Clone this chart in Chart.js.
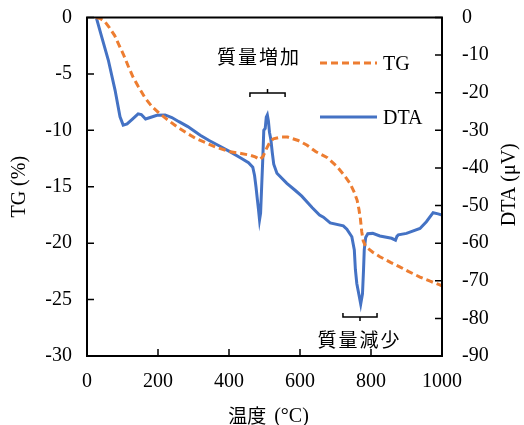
<!DOCTYPE html>
<html>
<head>
<meta charset="utf-8">
<script src="https://cdn.jsdelivr.net/npm/chart.js@4.4.0/dist/chart.umd.min.js"></script>
<style>
  html, body { margin: 0; padding: 0; background: #fff; }
  #wrap { width: 524px; height: 425px; position: relative; }
</style>
</head>
<body>
<div id="wrap"><canvas id="c" width="524" height="425"></canvas></div>
<script>
// Thermogravimetric (TG) curve: temperature (°C) and mass change (%)
const tgTemps = [25, 38, 51, 63, 78, 88, 103, 116, 130, 144, 163, 183, 204, 220, 254, 279, 305, 334, 364, 404,
  434, 459, 474, 487, 496, 506, 516, 525, 545, 565, 595, 619, 645, 676, 704, 725, 741, 753, 761, 766,
  770, 774, 778, 785, 805, 825, 855, 881, 905, 938, 965, 994, 1000];
const tgValues = [0, -0.1, -0.4, -0.9, -1.6, -2.3, -3.3, -4.3, -5.3, -6.1, -7.1, -7.9, -8.5, -8.9, -9.7, -10.2, -10.7, -11.1, -11.5, -11.9,
  -12.05, -12.2, -12.35, -12.6, -12.3, -11.6, -11.0, -10.75, -10.6, -10.6, -10.9, -11.3, -11.9, -12.4, -13.2, -14.0, -14.7, -15.5, -16.2, -17.0,
  -17.8, -19.0, -19.8, -20.3, -20.8, -21.2, -21.7, -22.1, -22.5, -23.0, -23.35, -23.7, -23.8];

// Differential thermal analysis (DTA) curve: temperature (°C) and signal (µV)
const dtaTemps = [27, 41, 60, 79, 93, 102, 113, 128, 144, 153, 165, 178, 197, 220, 239, 259, 284, 305, 319, 344,
  376, 405, 432, 455, 467, 472, 476, 480, 483, 486, 489, 492, 495, 498, 502, 505, 508, 511, 514, 518,
  522, 526, 535, 563, 587, 605, 634, 655, 666, 685, 722, 732, 746, 753, 756, 760, 767, 771, 776, 779,
  781, 785, 791, 805, 825, 858, 869, 873, 877, 900, 938, 956, 975, 989, 1000];
const dtaValues = [-0.3, -5, -11.3, -19.3, -26.4, -28.6, -28.3, -27, -25.6, -25.8, -27, -26.6, -26, -25.9, -26.6, -27.7, -29, -30.4, -31.3, -32.7,
  -34.3, -35.8, -37.3, -38.6, -39.8, -42, -45, -48.5, -51, -53.8, -52, -45, -38, -30, -29.5, -26.5, -25.9, -27.5, -30.5, -32.5,
  -36, -39, -41.4, -44.1, -46, -47.5, -50.5, -52.5, -53.1, -54.6, -55.4, -56.3, -58.3, -61.8, -67, -70.7, -74.2, -76.2, -73.5, -67,
  -61.8, -58.5, -57.5, -57.4, -58.1, -58.7, -59.2, -58.2, -57.8, -57.4, -56.1, -54.3, -51.9, -52.2, -52.5];

// Axis ticks
const xTicks = [0, 200, 400, 600, 800, 1000];
const tgTicks = [0, -5, -10, -15, -20, -25, -30];
const dtaTicks = [0, -10, -20, -30, -40, -50, -60, -70, -80, -90];

// Names and titles
const seriesNames = ['TG', 'DTA'];
const xTitleJa = '温度';
const xTitleUnit = '(°C)';
const tgTitle = 'TG (%)';
const dtaTitle = 'DTA (μV)';

// Bracketed notes in data units (temperature, TG %)
const noteTexts = ['質量増加', '質量減少'];
const noteTextT = [482, 765];
const noteTextTG = [-3.5, -28.6];
const noteFromT = [459, 721];
const noteToT = [558, 817];
const noteAtTG = [-6.7, -26.55];

const ORANGE = '#ED7D31';
const BLUE = '#4472C4';
const SERIF = "'Liberation Serif', 'Times New Roman', serif";
const CJK = "'Noto Sans CJK JP', 'Noto Sans', sans-serif";

const tgData = tgTemps.map((t, i) => ({ x: t, y: tgValues[i] }));
const dtaData = dtaTemps.map((t, i) => ({ x: t, y: dtaValues[i] }));

// fixed axis box sizes; label overhang is not allowed to shrink the plot
function fixBox(size, horizontal) {
  return s => {
    if (horizontal) s.height = size; else s.width = size;
    s.paddingTop = 0; s.paddingBottom = 0; s.paddingLeft = 0; s.paddingRight = 0;
  };
}

const decor = {
  id: 'decor',
  afterDraw(chart) {
    const ctx = chart.ctx;
    const a = chart.chartArea;
    const sx = chart.scales.x, sl = chart.scales.yTG, sr = chart.scales.yDTA;
    ctx.save();
    // plot frame
    ctx.strokeStyle = '#000';
    ctx.lineWidth = 2;
    ctx.strokeRect(a.left, a.top, a.right - a.left, a.bottom - a.top);
    // inward tick marks
    ctx.lineWidth = 1.5;
    ctx.beginPath();
    const tl = 7;
    tgTicks.forEach(v => { const y = sl.getPixelForValue(v); ctx.moveTo(a.left, y); ctx.lineTo(a.left + tl, y); });
    dtaTicks.forEach(v => { const y = sr.getPixelForValue(v); ctx.moveTo(a.right, y); ctx.lineTo(a.right - tl, y); });
    xTicks.forEach(v => { const x = sx.getPixelForValue(v); ctx.moveTo(x, a.bottom); ctx.lineTo(x, a.bottom - tl); });
    ctx.stroke();

    // axis titles
    ctx.fillStyle = '#000';
    ctx.textBaseline = 'middle';
    ctx.textAlign = 'center';
    const midY = (a.top + a.bottom) / 2;
    ctx.font = '20px ' + SERIF;
    ctx.save(); ctx.translate(20, midY); ctx.rotate(-Math.PI / 2); ctx.fillText(tgTitle, 0, 0); ctx.restore();
    ctx.save(); ctx.translate(510, midY - 2); ctx.rotate(-Math.PI / 2); ctx.fillText(dtaTitle, 0, 0); ctx.restore();

    ctx.font = '19px ' + CJK;
    const wJa = ctx.measureText(xTitleJa).width;
    ctx.font = '20px ' + SERIF;
    const gap = 8;
    const wUnit = ctx.measureText(xTitleUnit).width;
    const x0 = (a.left + a.right) / 2 + 4 - (wJa + gap + wUnit) / 2;
    ctx.textAlign = 'left';
    ctx.font = '19px ' + CJK;
    ctx.fillText(xTitleJa, x0, 416);
    ctx.font = '20px ' + SERIF;
    ctx.fillText(xTitleUnit, x0 + wJa + gap, 417);

    // legend
    const lx0 = 320, lx1 = 377;
    const ly = [63, 117];
    const colors = [ORANGE, BLUE];
    const dashes = [[7, 4], []];
    ctx.lineWidth = 3;
    seriesNames.forEach((name, i) => {
      ctx.strokeStyle = colors[i];
      ctx.setLineDash(dashes[i]);
      ctx.beginPath(); ctx.moveTo(lx0, ly[i]); ctx.lineTo(lx1, ly[i]); ctx.stroke();
      ctx.setLineDash([]);
      ctx.fillStyle = '#000';
      ctx.font = '20px ' + SERIF;
      ctx.textAlign = 'left';
      ctx.fillText(name, 383, ly[i] + 2);
    });

    // bracketed notes
    ctx.strokeStyle = '#000';
    ctx.lineWidth = 1.5;
    noteTexts.forEach((txt, i) => {
      const xa = sx.getPixelForValue(noteFromT[i]);
      const xb = sx.getPixelForValue(noteToT[i]);
      const xm = (xa + xb) / 2;
      const yb = sl.getPixelForValue(noteAtTG[i]);
      const dir = i === 0 ? 1 : -1; // ends hang down for the upper note, up for the lower one
      ctx.beginPath();
      ctx.moveTo(xa, yb + 4 * dir); ctx.lineTo(xa, yb); ctx.lineTo(xb, yb); ctx.lineTo(xb, yb + 4 * dir);
      ctx.moveTo(xm, yb); ctx.lineTo(xm, yb - 4 * dir);
      ctx.stroke();
      // text, spaced character by character
      ctx.font = '19px ' + CJK;
      ctx.fillStyle = '#000';
      ctx.textAlign = 'center';
      const pitch = 21;
      const cx = sx.getPixelForValue(noteTextT[i]);
      const cy = sl.getPixelForValue(noteTextTG[i]);
      const chars = Array.from(txt);
      chars.forEach((ch, k) => {
        ctx.fillText(ch, cx + (k - (chars.length - 1) / 2) * pitch, cy);
      });
    });
    ctx.restore();
  }
};

const tickFont = { family: SERIF, size: 20 };
const plain = v => String(v);

new Chart(document.getElementById('c'), {
  type: 'line',
  data: {
    datasets: [
      { label: seriesNames[0], data: tgData, yAxisID: 'yTG', borderColor: ORANGE, borderWidth: 3,
        borderDash: [7, 4], pointRadius: 0, tension: 0, fill: false },
      { label: seriesNames[1], data: dtaData, yAxisID: 'yDTA', borderColor: BLUE, borderWidth: 3,
        pointRadius: 0, tension: 0, fill: false }
    ]
  },
  options: {
    responsive: false,
    animation: false,
    devicePixelRatio: 1,
    layout: { padding: { top: 17.5, left: 0, right: 0, bottom: 0 } },
    plugins: { legend: { display: false }, tooltip: { enabled: false } },
    scales: {
      x: {
        type: 'linear', position: 'bottom', min: 0, max: 1000,
        afterBuildTicks: s => { s.ticks = xTicks.map(v => ({ value: v })); },
        afterFit: fixBox(69, true),
        grid: { display: false, drawTicks: false },
        border: { display: false },
        ticks: { color: '#000', font: tickFont, padding: 14, maxRotation: 0, callback: plain }
      },
      yTG: {
        type: 'linear', position: 'left', min: -30, max: 0,
        afterBuildTicks: s => { s.ticks = tgTicks.map(v => ({ value: v })); },
        afterFit: fixBox(87, false),
        grid: { display: false, drawTicks: false },
        border: { display: false },
        ticks: { color: '#000', font: tickFont, padding: 15, callback: plain }
      },
      yDTA: {
        type: 'linear', position: 'right', min: -90, max: 0,
        afterBuildTicks: s => { s.ticks = dtaTicks.map(v => ({ value: v })); },
        afterFit: fixBox(82, false),
        grid: { display: false, drawTicks: false },
        border: { display: false },
        ticks: { color: '#000', font: tickFont, padding: 20, callback: plain }
      }
    }
  },
  plugins: [decor]
});
</script>
</body>
</html>
